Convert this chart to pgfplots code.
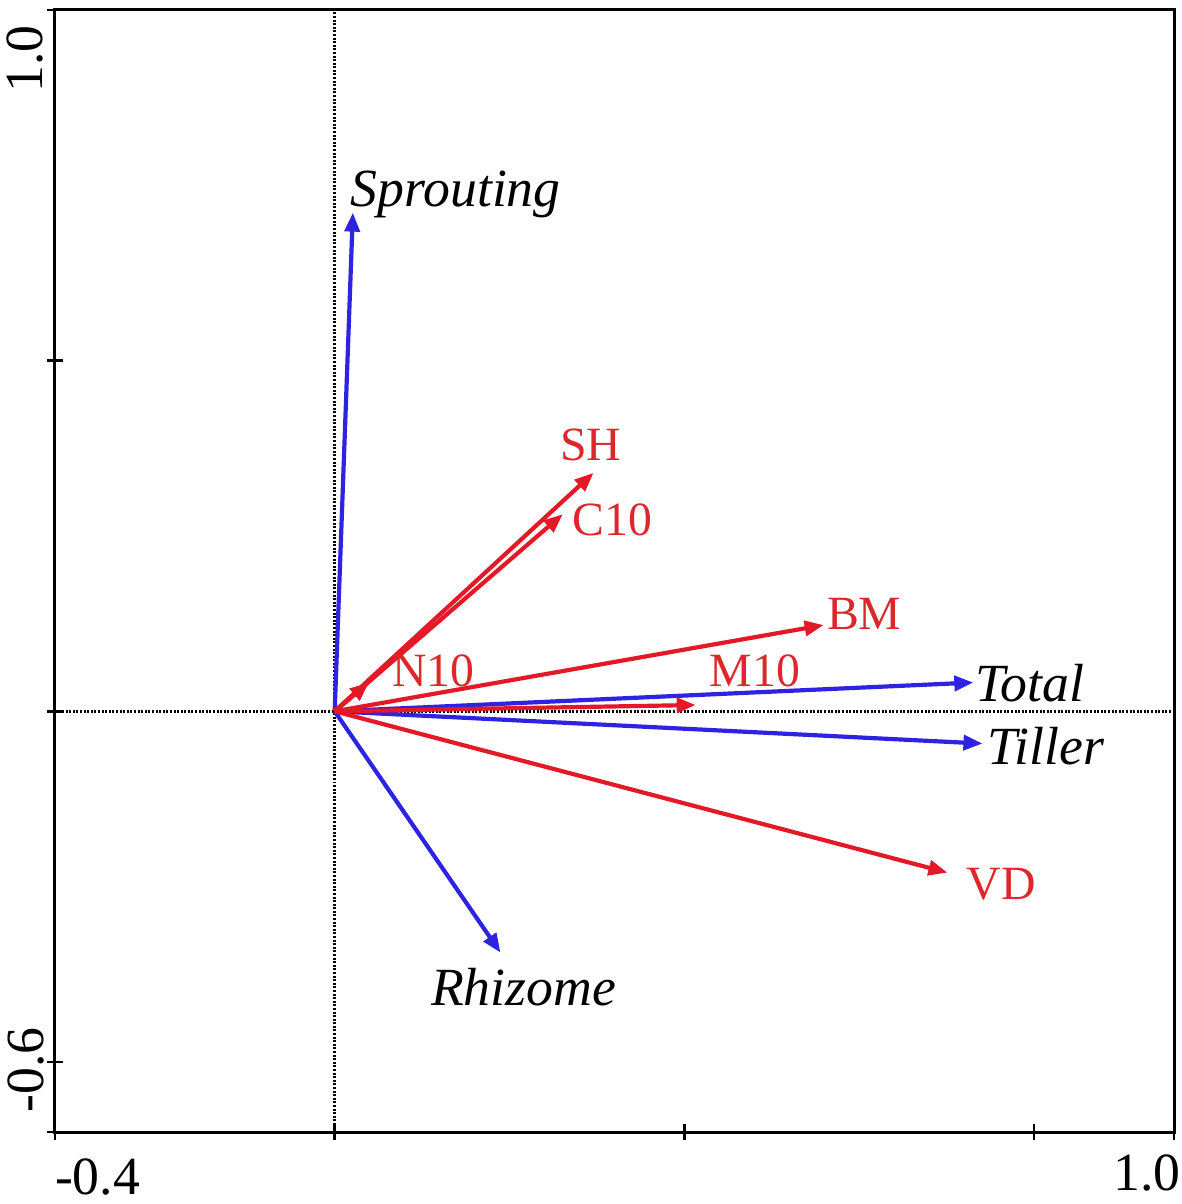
\documentclass[border=0pt]{standalone}
\usepackage{fontspec}
\setmainfont{Liberation Serif}
\usepackage{pgfplots}
\pgfplotsset{compat=1.18}
\usetikzlibrary{arrows.meta}
\definecolor{vecblue}{RGB}{45,35,225}
\definecolor{vecred}{RGB}{228,25,40}
\definecolor{labred}{RGB}{220,40,45}

\tikzset{
  vec/.style={line width=2.1bp, -{Triangle[length=9.5bp,width=7.5bp]}},
  lab/.style={font=\fontsize{24}{24}\selectfont, text=labred, inner sep=0pt},
  var/.style={font=\fontsize{27}{27}\selectfont\itshape, text=black, inner sep=0pt},
  tl/.style={font=\fontsize{27}{27}\selectfont, inner sep=0pt},
}

\begin{document}
\begin{tikzpicture}
\begin{axis}[
  scale only axis, width=560.5bp, height=562bp,
  xmin=-0.4, xmax=1.2, ymin=-0.6, ymax=1.0,
  axis line style={line width=1.5bp},
  xtick={-0.4,0,0.5,1,1.2}, ytick={-0.6,-0.5,0,0.5,1.0},
  xticklabel=\empty, yticklabel=\empty,
  tick align=center, major tick length=8bp,
  tick style={line width=1.2bp, black},
  xtick pos=bottom, ytick pos=left,
  clip=false,
]
% zero lines
\addplot[black, line width=1.2bp, dash pattern=on 1bp off 0.8bp] coordinates {(-0.4,0) (1.2,0)};
\addplot[black, line width=1.2bp, dash pattern=on 1bp off 0.8bp] coordinates {(0,-0.6) (0,1.0)};

% response variables
\addplot[vec, vecblue] coordinates {(0,0) (0.026,0.711)};
\addplot[vec, vecblue] coordinates {(0,0) (0.237,-0.344)};
\addplot[vec, vecblue] coordinates {(0,0) (0.913,0.041)};
\addplot[vec, vecblue] coordinates {(0,0) (0.926,-0.046)};

% explanatory variables
\addplot[vec, vecred] coordinates {(0,0) (0.370,0.340)};
\addplot[vec, vecred] coordinates {(0,0) (0.326,0.281)};
\addplot[vec, vecred] coordinates {(0,0) (0.049,0.041)};
\addplot[vec, vecred] coordinates {(0,0) (0.516,0.009)};
\addplot[vec, vecred] coordinates {(0,0) (0.699,0.123)};
\addplot[vec, vecred] coordinates {(0,0) (0.876,-0.230)};

\node[var] at (axis cs:0.173,0.737) {Sprouting};
\node[var] at (axis cs:0.270,-0.393) {Rhizome};
\node[var] at (axis cs:0.994,0.040) {Total};
\node[var] at (axis cs:1.017,-0.049) {Tiller};

\node[lab] at (axis cs:0.366,0.380) {SH};
\node[lab] at (axis cs:0.397,0.273) {C10};
\node[lab] at (axis cs:0.141,0.057) {N10};
\node[lab] at (axis cs:0.601,0.057) {M10};
\node[lab] at (axis cs:0.757,0.139) {BM};
\node[lab] at (axis cs:0.953,-0.246) {VD};

% range labels
\node[tl] at (axis cs:-0.339,-0.664) {-0.4};
\node[tl] at (axis cs:1.161,-0.658) {1.0};
\node[tl, rotate=90] at (axis cs:-0.443,0.930) {1.0};
\node[tl, rotate=90] at (axis cs:-0.441,-0.511) {-0.6};

\coordinate (bl) at (rel axis cs:0,0);
\coordinate (tr) at (rel axis cs:1,1);
\end{axis}
\pgfresetboundingbox
\path ([shift={(-27.5bp,-36bp)}]bl) rectangle ([shift={(3.5bp,5bp)}]tr);
\end{tikzpicture}
\end{document}
